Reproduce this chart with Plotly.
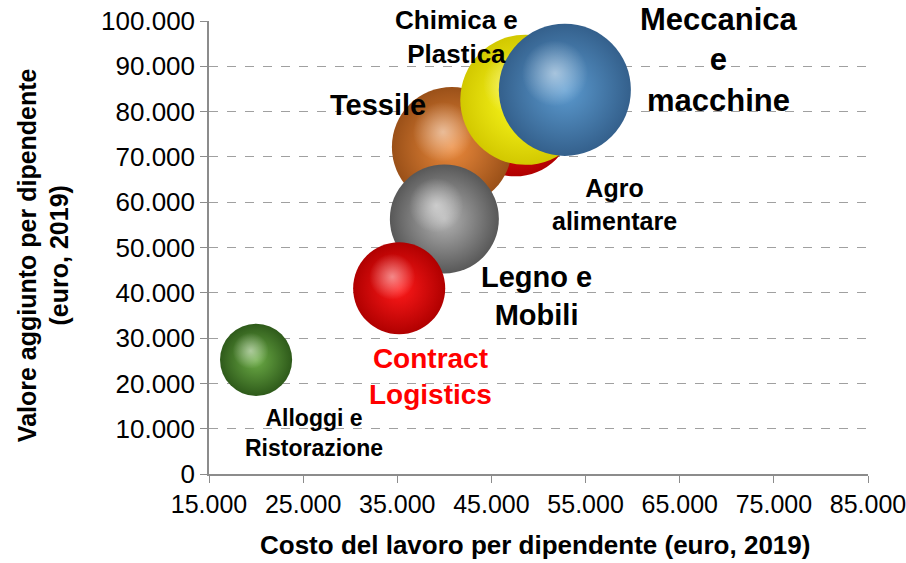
import plotly.graph_objects as go

# dati (ordine di disegno: i primi restano dietro)
settori = ["Agro alimentare", "Tessile", "Chimica e Plastica", "Meccanica e macchine",
           "Legno e Mobili", "Contract Logistics", "Alloggi e Ristorazione"]
costo_lavoro = [47500, 40800, 48600, 52800, 40000, 35200, 20000]
valore_aggiunto = [78500, 72200, 82600, 84800, 56300, 41000, 25200]
dimensione = [33.6, 36.0, 42.3, 43.6, 29.7, 21.2, 13.0]

colore_base = ["#ff1a1a", "#ec8a3c", "#ffff20", "#5c9bd0", "#b4b4b4", "#ff1a1a", "#6cac46"]
colore_bordo = ["#b00000", "#9a5018", "#d2c800", "#34608c", "#585858", "#b00000", "#2e5a1a"]

x_ticks = list(range(15000, 85001, 10000))
y_ticks = list(range(0, 100001, 10000))

W, H = 906, 563
M = dict(l=209, r=38, t=21, b=89)
px_x = (W - M["l"] - M["r"]) / (85000 - 15000)
px_y = (H - M["t"] - M["b"]) / (100000 - 0)

fig = go.Figure()
for i, nome in enumerate(settori):
    d = 20 * dimensione[i] ** 0.5   # diametro in px
    r = d / 2
    fig.add_trace(go.Scatter(
        x=[costo_lavoro[i]], y=[valore_aggiunto[i]], mode="markers", name=nome,
        marker=dict(size=d, opacity=1, color=colore_bordo[i], line=dict(width=0),
                    gradient=dict(type="radial", color=colore_base[i])),
        hoverinfo="skip", showlegend=False))
    # riflesso
    fig.add_trace(go.Scatter(
        x=[costo_lavoro[i] - 0.15 * r / px_x], y=[valore_aggiunto[i] + 0.25 * r / px_y],
        mode="markers",
        marker=dict(size=d * 0.5, opacity=1, color="rgba(255,255,255,0)", line=dict(width=0),
                    gradient=dict(type="radial", color="rgba(255,255,255,0.5)")),
        hoverinfo="skip", showlegend=False))

etichette = [
    dict(text="Chimica e<br>Plastica", x=41300, y=96400, size=26, color="black"),
    dict(text="Tessile", x=32950, y=81500, size=29, color="black"),
    dict(text="Meccanica<br>e<br>macchine", x=69200, y=91400, size=31, color="black"),
    dict(text="Agro<br>alimentare", x=58100, y=59400, size=25, color="black"),
    dict(text="Legno e<br>Mobili", x=49800, y=39400, size=29, color="black"),
    dict(text="Contract<br>Logistics", x=38500, y=21600, size=28, color="#ff0000"),
    dict(text="Alloggi e<br>Ristorazione", x=26150, y=9050, size=23, color="black"),
]
for e in etichette:
    fig.add_annotation(x=e["x"], y=e["y"], text="<b>%s</b>" % e["text"], showarrow=False,
                       font=dict(family="Liberation Sans", size=e["size"], color=e["color"]),
                       xanchor="center", yanchor="middle", align="center")

fig.add_annotation(xref="paper", yref="paper", x=-0.252, y=0.483, xanchor="center", yanchor="middle",
                   text="<b>Valore aggiunto per dipendente<br>(euro, 2019)</b>", textangle=-90,
                   showarrow=False, font=dict(family="Liberation Sans", size=25, color="black"))
fig.add_annotation(xref="paper", yref="paper", x=0.495, y=-0.157, xanchor="center", yanchor="middle",
                   text="<b>Costo del lavoro per dipendente (euro, 2019)</b>",
                   showarrow=False, font=dict(family="Liberation Sans", size=26, color="black"))

fig.update_layout(
    width=W, height=H, margin=M, plot_bgcolor="white", paper_bgcolor="white",
    separators=",.", font=dict(family="Liberation Sans", color="black"),
    xaxis=dict(range=[15000, 85000], tickvals=x_ticks, tickformat=",d", showgrid=False,
               zeroline=False, showline=True, linecolor="#8c8c8c", linewidth=1.5,
               ticks="outside", tickcolor="#8c8c8c", ticklen=7, automargin=False,
               ticklabeloverflow="allow", tickfont=dict(size=25, color="black")),
    yaxis=dict(range=[0, 100000], tickvals=y_ticks, tickformat=",d", showgrid=True,
               gridcolor="#a0a0a0", griddash="dash", gridwidth=1.2,
               zeroline=False, showline=True, linecolor="#8c8c8c", linewidth=1.5,
               ticks="outside", tickcolor="#8c8c8c", ticklen=7, automargin=False,
               ticklabeloverflow="allow", tickfont=dict(size=26, color="black")),
)

# niente margine sul body, cosi' la figura riempie la finestra
fig.write_html("out.html", config={"displayModeBar": False},
               post_script="document.body.style.margin='0';")
